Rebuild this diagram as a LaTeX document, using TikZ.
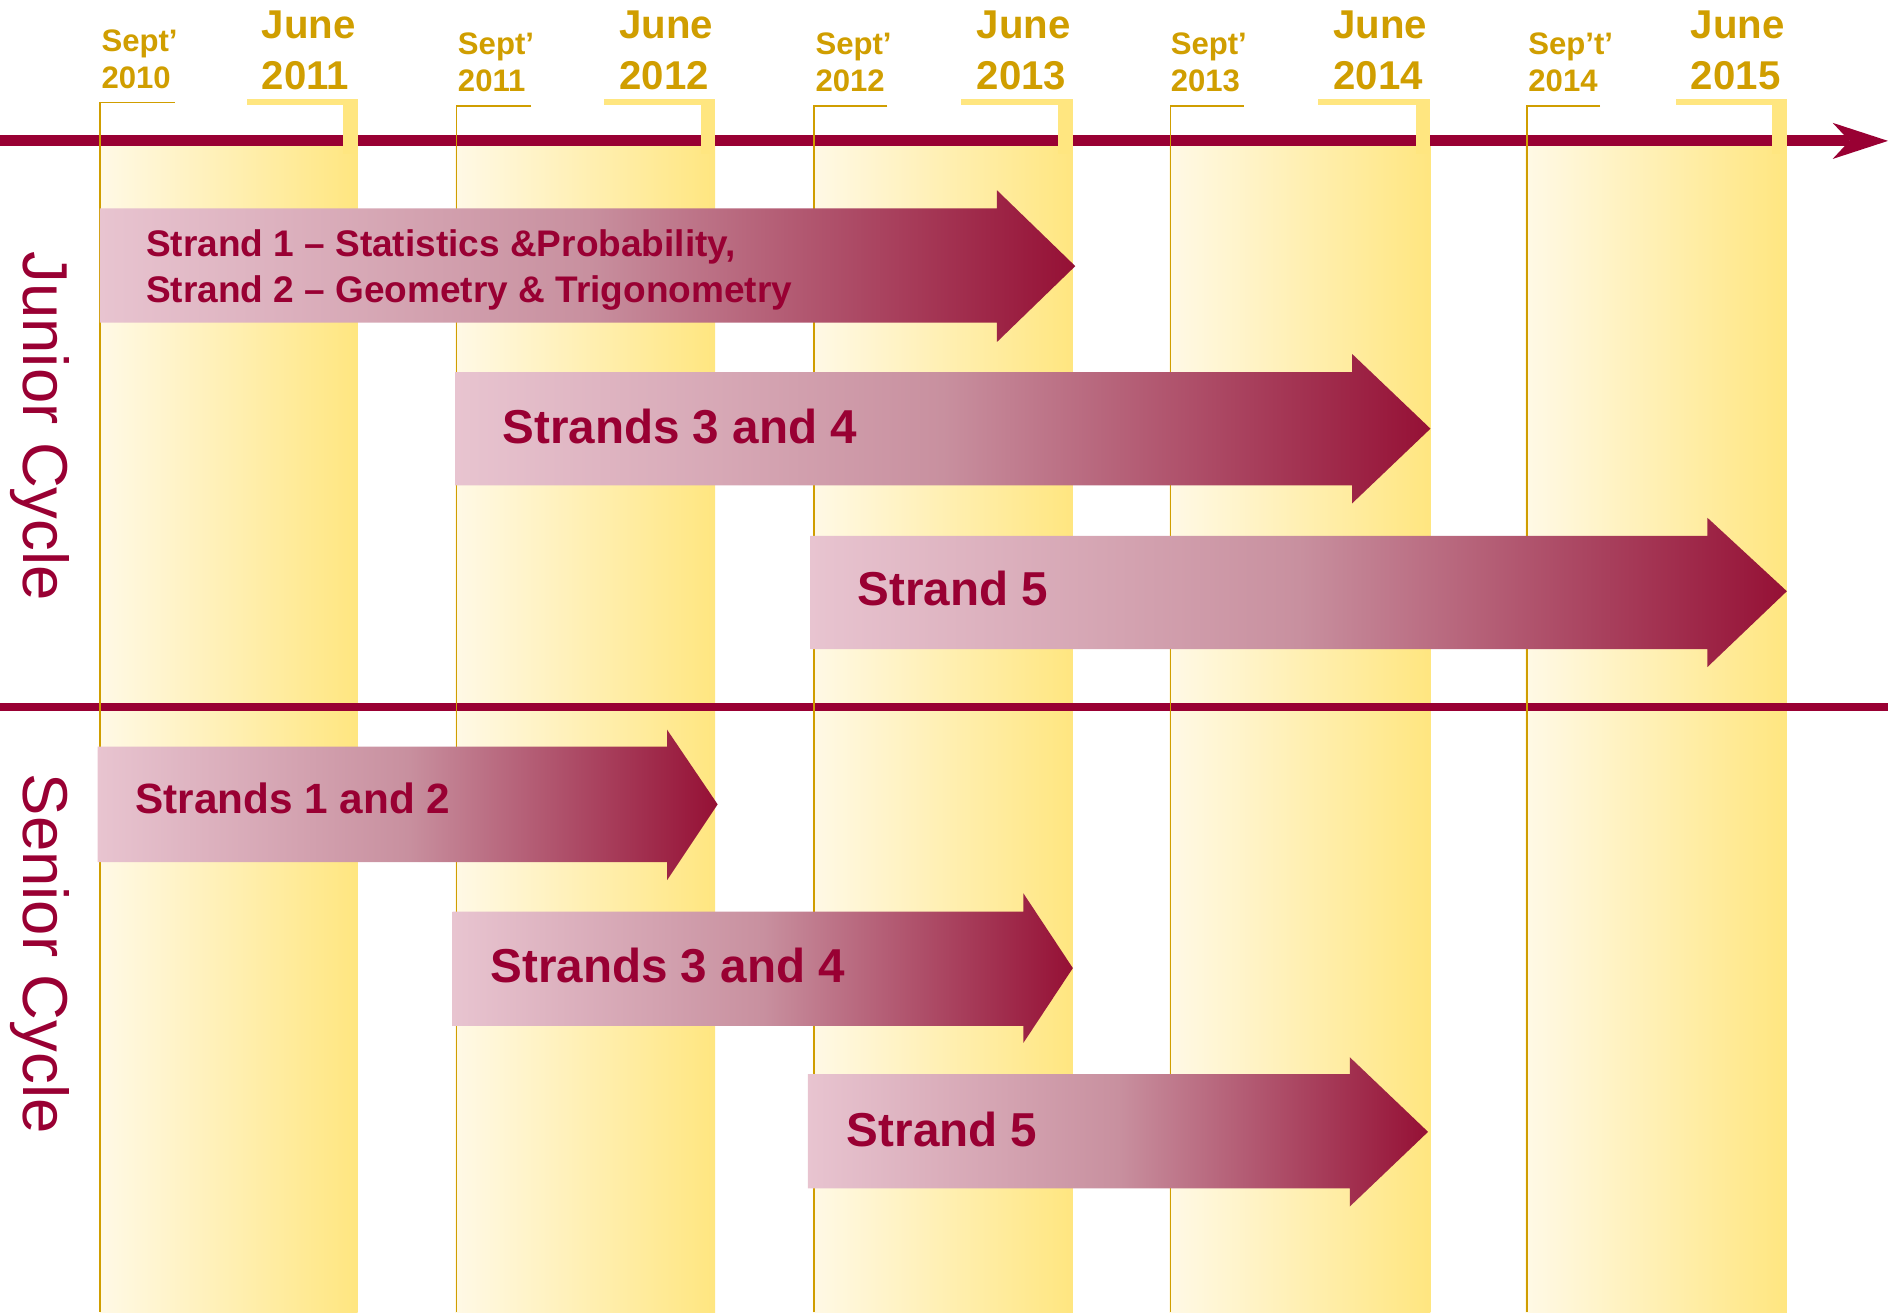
\documentclass[tikz,border=0pt]{standalone}
\usepackage{fontspec}
\setmainfont{Liberation Sans}
\definecolor{crimson}{HTML}{990033}
\definecolor{gold}{HTML}{D09E00}
\definecolor{paleyellow}{HTML}{FFE680}
\definecolor{cream}{HTML}{FFF9E6}
\definecolor{rosepink}{HTML}{E8C4D0}
\definecolor{dustyrose}{HTML}{C8909F}
\definecolor{winered}{HTML}{951035}
\tikzset{
  yearband/.style={left color=cream, right color=paleyellow, draw=none},
  junebar/.style={fill=paleyellow, draw=none},
  septline/.style={draw=gold, line width=0.8pt},
  strandarrow/.style={left color=rosepink, right color=winered, middle color=dustyrose, draw=none},
  septlabel/.style={text=gold, font=\fontsize{14.7}{17.6}\selectfont\bfseries, align=left, anchor=west, inner sep=0pt},
  junelabel/.style={text=gold, font=\fontsize{19}{23.9}\selectfont\bfseries, align=left, anchor=west, inner sep=0pt},
  strandtext/.style={text=crimson, font=\fontsize{22.5}{27}\selectfont\bfseries, align=left, anchor=west, inner sep=0pt},
  cyclelabel/.style={text=crimson, font=\fontsize{30}{36}\selectfont, rotate=-90, inner sep=0pt}
}
\begin{document}
\begin{tikzpicture}[x=0.02cm, y=-0.02cm]
      \useasboundingbox (0,0) rectangle (1568,1090);

      \shade[yearband] (83,121) rectangle (297,1090);
      \shade[yearband] (378,121) rectangle (594,1090);
      \shade[yearband] (675,121) rectangle (891,1090);
      \shade[yearband] (971,121) rectangle (1188,1090);
      \shade[yearband] (1267,121) rectangle (1484,1090);

      \draw[crimson, line width=5.1pt] (0,117) -- (1536,117);
      \fill[crimson] (1568,117) -- (1522,102) -- (1536,117) -- (1522,132) -- cycle;
      \draw[crimson, line width=4pt] (0,587) -- (1568,587);

      \draw[septline] (145,85) -- (83,85) -- (83,1090);
      \draw[septline] (441,88) -- (379,88) -- (379,1090);
      \draw[septline] (737,88) -- (676,88) -- (676,1090);
      \draw[septline] (1033,88) -- (972,88) -- (972,1090);
      \draw[septline] (1329,88) -- (1268,88) -- (1268,1090);

      \fill[junebar] (205,82) rectangle (297,87);
      \fill[junebar] (285,82) rectangle (297,128);
      \fill[junebar] (502,82) rectangle (594,87);
      \fill[junebar] (582,82) rectangle (594,128);
      \fill[junebar] (798,82) rectangle (891,87);
      \fill[junebar] (879,82) rectangle (891,128);
      \fill[junebar] (1095,82) rectangle (1188,87);
      \fill[junebar] (1176,82) rectangle (1188,128);
      \fill[junebar] (1392,82) rectangle (1484,87);
      \fill[junebar] (1472,82) rectangle (1484,128);

      \node[septlabel] (sept1) at (84,49) {Sept’\\2010};
      \node[septlabel] (sept2) at (380,52) {Sept’\\2011};
      \node[septlabel] (sept3) at (677,52) {Sept’\\2012};
      \node[septlabel] (sept4) at (972,52) {Sept’\\2013};
      \node[septlabel] (sept5) at (1269,52) {Sep’t’\\2014};
      \node[junelabel] (june1) at (217,42) {June\\2011};
      \node[junelabel] (june2) at (514,42) {June\\2012};
      \node[junelabel] (june3) at (811,42) {June\\2013};
      \node[junelabel] (june4) at (1107,42) {June\\2014};
      \node[junelabel] (june5) at (1404,42) {June\\2015};

      \shade[strandarrow] (83,173) -- (828,173) -- (828,158) -- (893,221) -- (828,284) -- (828,268) -- (83,268) -- cycle;
      \shade[strandarrow] (378,309) -- (1123,309) -- (1123,294) -- (1188,356) -- (1123,418) -- (1123,403) -- (378,403) -- cycle;
      \shade[strandarrow] (673,445) -- (1418,445) -- (1418,430) -- (1484,491) -- (1418,554) -- (1418,539) -- (673,539) -- cycle;
      \shade[strandarrow] (81,620) -- (554,620) -- (554,606) -- (596,668) -- (554,731) -- (554,716) -- (81,716) -- cycle;
      \shade[strandarrow] (376,757) -- (850,757) -- (850,742) -- (891,804) -- (850,866) -- (850,852) -- (376,852) -- cycle;
      \shade[strandarrow] (671,892) -- (1121,892) -- (1121,878) -- (1186,940) -- (1121,1002) -- (1121,987) -- (671,987) -- cycle;

      \node[strandtext, font=\fontsize{17.5}{21.6}\selectfont\bfseries] (jstrand12) at (121,224) {Strand 1 – Statistics \&Probability,\\Strand 2 – Geometry \& Trigonometry};
      \node[strandtext] (jstrand34) at (417,354) {Strands 3 and 4};
      \node[strandtext] (jstrand5) at (712,489) {Strand 5};
      \node[strandtext, font=\fontsize{20}{24}\selectfont\bfseries] (sstrand12) at (112,663) {Strands 1 and 2};
      \node[strandtext] (sstrand34) at (407,802) {Strands 3 and 4};
      \node[strandtext] (sstrand5) at (703,938) {Strand 5};

      \node[cyclelabel] (junior) at (33,354) {Junior Cycle};
      \node[cyclelabel] (senior) at (33,792) {Senior Cycle};
\end{tikzpicture}
\end{document}
